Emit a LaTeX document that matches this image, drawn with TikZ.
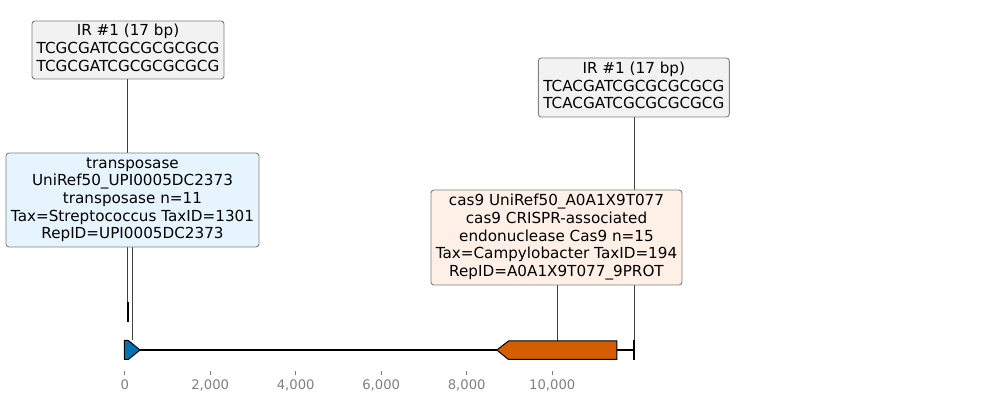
\documentclass[tikz,border=0pt]{standalone}
\usepackage{fontspec}
\setmainfont{DejaVu Sans}
\usetikzlibrary{backgrounds}
\definecolor{geneblue}{RGB}{1,115,178}
\definecolor{geneorange}{RGB}{213,94,0}
\definecolor{boxgray}{RGB}{242,242,242}
\definecolor{boxblue}{RGB}{230,245,253}
\definecolor{boxorange}{RGB}{254,240,230}
\definecolor{edgegray}{RGB}{128,128,128}
\definecolor{tickgray}{RGB}{128,128,128}
\tikzset{
  labelbox/.style={draw=edgegray, line width=0.9pt, rounded corners=3pt, align=center,
    inner sep=0pt, font=\fontsize{15.2}{17.7}\selectfont},
  leader/.style={draw=black!75, line width=0.8pt},
  genebody/.style={draw=black, line width=1pt, line join=miter},
  featbar/.style={draw=black, line width=2.2pt},
  axisline/.style={draw=black, line width=1.5pt},
  tickmark/.style={draw=tickgray, line width=0.8pt},
  ticklabel/.style={text=tickgray, font=\fontsize{13.2}{15}\selectfont, inner sep=0pt}
}
\begin{document}
\begin{tikzpicture}[x=1pt,y=-1pt]
\useasboundingbox (0,0) rectangle (989,403);
% boxes
\node[labelbox, fill=boxgray, minimum width=192pt, minimum height=58pt] (irL) at (128,50)
  {\raisebox{-1pt}{\begin{tabular}{@{}c@{}}IR \#1 (17 bp)\\TCGCGATCGCGCGCGCG\\TCGCGATCGCGCGCGCG\end{tabular}}};
\node[labelbox, fill=boxblue, minimum width=253pt, minimum height=94pt] (tnp) at (132.5,200)
  {\raisebox{-1.5pt}{\begin{tabular}{@{}c@{}}transposase\\UniRef50\_UPI0005DC2373\\transposase n=11\\Tax=Streptococcus TaxID=1301\\RepID=UPI0005DC2373\end{tabular}}};
\node[labelbox, fill=boxgray, minimum width=191pt, minimum height=59pt] (irR) at (633.8,87.5)
  {\raisebox{-1pt}{\begin{tabular}{@{}c@{}}IR \#1 (17 bp)\\TCACGATCGCGCGCGCG\\TCACGATCGCGCGCGCG\end{tabular}}};
\node[labelbox, fill=boxorange, minimum width=251pt, minimum height=95pt] (cas) at (556.5,237.5)
  {\raisebox{-1.5pt}{\begin{tabular}{@{}c@{}}cas9 UniRef50\_A0A1X9T077\\cas9 CRISPR-associated\\endonuclease Cas9 n=15\\Tax=Campylobacter TaxID=194\\RepID=A0A1X9T077\_9PROT\end{tabular}}};
% feature anchor coordinates
\coordinate (barLtop) at (127.8,302);
\coordinate (barLbot) at (127.8,322);
\coordinate (barRtop) at (634.2,340.5);
\coordinate (barRbot) at (634.2,360);
\coordinate (tnpTop) at (132.3,340.5);
\coordinate (casTop) at (557,341);
\coordinate (seqStart) at (124.5,350);
\coordinate (seqEnd) at (634.2,350);
\begin{scope}[on background layer]
  \draw[leader] (irL.south -| barLtop) -- (barLtop);
  \draw[leader] (tnp.south -| tnpTop) -- (tnpTop);
  \draw[leader] (cas.south -| casTop) -- (casTop);
  \draw[leader] (irR.south -| barRtop) -- (barRtop);
  \draw[axisline] (seqStart) -- (seqEnd);
\end{scope}
% features
\draw[featbar] (barLtop) -- (barLbot);
\draw[featbar] (barRtop) -- (barRbot);
\filldraw[genebody, fill=geneblue] (124.3,340.5) -- (128.3,340.5) -- (140,350) -- (128.3,359.5) -- (124.3,359.5) -- cycle;
\filldraw[genebody, fill=geneorange] (496.8,350) -- (508.5,341) -- (616.8,341) -- (616.8,359.5) -- (508.5,359.5) -- cycle;
% axis ticks
\foreach \v/\lab in {0/0,2000/{2,000},4000/{4,000},6000/{6,000},8000/{8,000},10000/{10,000}} {
  \pgfmathsetmacro{\xx}{124.7+\v*0.04276}
  \draw[tickmark] (\xx,371) -- (\xx,375.5);
  \node[ticklabel, anchor=base] at (\xx,390) {\lab};
}
\end{tikzpicture}
\end{document}
